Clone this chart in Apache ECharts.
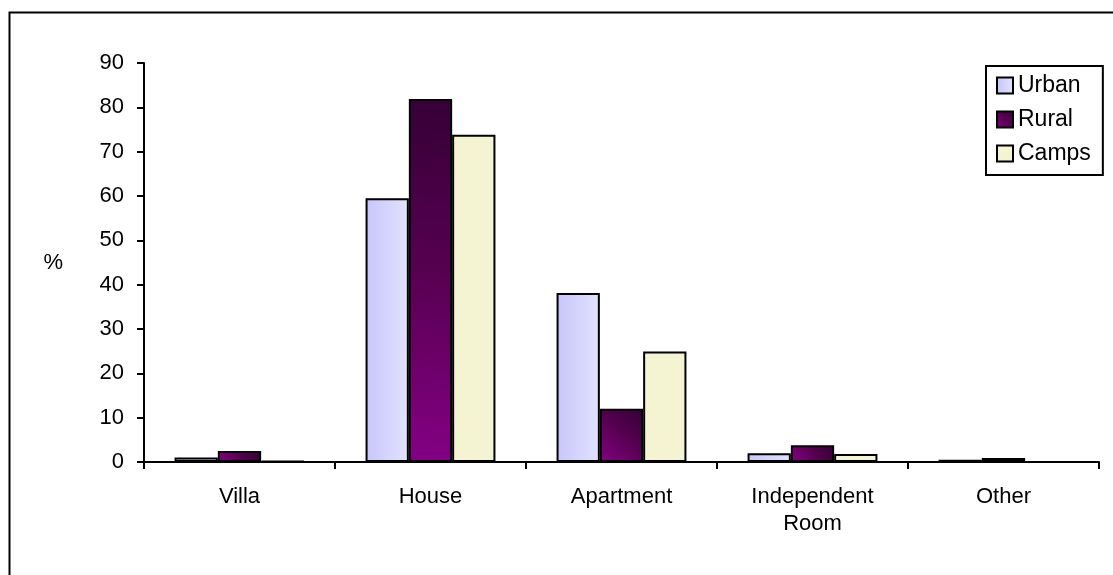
<!DOCTYPE html>
<html>
<head>
<meta charset="utf-8">
<script src="https://cdn.jsdelivr.net/npm/echarts@6/dist/echarts.min.js"></script>
<style>html,body{margin:0;padding:0;background:#fff}#c{width:1113px;height:575px}</style>
</head>
<body>
<div id="c"></div>
<script>
var categories = ['Villa', 'House', 'Apartment', 'Independent\nRoom', 'Other'];
var urban = [1.0, 59.5, 38.1, 2.0, 0.5];
var rural = [2.5, 81.9, 12.0, 3.8, 0.9];
var camps = [0.2, 73.8, 24.9, 1.8, 0.0];
var yTicks = [0, 10, 20, 30, 40, 50, 60, 70, 80, 90];

var FONT = '"Liberation Sans", Arial, sans-serif';
var chart = echarts.init(document.getElementById('c'));
var urbanFill = new echarts.graphic.LinearGradient(0, 0, 1, 0, [
  {offset: 0, color: '#c6c6fb'}, {offset: 1, color: '#e2e2ff'}
]);
var ruralFill = new echarts.graphic.LinearGradient(0, 1, 1, 0, [
  {offset: 0, color: '#840084'}, {offset: 0.55, color: '#55004f'}, {offset: 1, color: '#350036'}
]);
var campsFill = '#f4f4d3';
function bar(name, data, fill) {
  return {
    name: name, type: 'bar', data: data, barGap: '0%', barCategoryGap: '32%',
    itemStyle: {color: fill, borderColor: '#000', borderWidth: 2},
    emphasis: {disabled: true}
  };
}
chart.setOption({
  animation: false,
  textStyle: {fontFamily: FONT},
  graphic: [{
    type: 'rect', left: 7, top: 10, shape: {width: 1200, height: 700},
    style: {fill: 'none', stroke: '#000', lineWidth: 2}, silent: true, z: -1
  }],
  grid: {left: 144, right: 14, top: 63, bottom: 113},
  legend: {
    orient: 'vertical', left: 986, top: 66,
    padding: [8, 12, 10, 10], itemGap: 11,
    itemWidth: 16, itemHeight: 16, icon: 'rect',
    borderColor: '#000', borderWidth: 2, backgroundColor: '#fff',
    textStyle: {fontSize: 23, color: '#000', fontFamily: FONT},
    data: ['Urban', 'Rural', 'Camps']
  },
  xAxis: {
    type: 'category', data: categories,
    axisLine: {lineStyle: {color: '#000', width: 2}},
    axisTick: {show: true, length: 7, lineStyle: {color: '#000', width: 2}},
    axisLabel: {color: '#000', fontSize: 22, margin: 21, lineHeight: 27, fontFamily: FONT}
  },
  yAxis: {
    type: 'value', min: 0, max: 90, interval: 10,
    name: '%', nameLocation: 'middle', nameRotate: 0, nameGap: 81,
    nameTextStyle: {color: '#000', fontSize: 22, fontFamily: FONT},
    axisLine: {show: true, lineStyle: {color: '#000', width: 2}},
    axisTick: {show: true, length: 7, lineStyle: {color: '#000', width: 2}},
    splitLine: {show: false},
    axisLabel: {color: '#000', fontSize: 22, margin: 20, fontFamily: FONT,
      formatter: function (v) { return yTicks.indexOf(v) >= 0 ? String(v) : ''; }}
  },
  series: [bar('Urban', urban, urbanFill), bar('Rural', rural, ruralFill), bar('Camps', camps, campsFill)]
});
</script>
</body>
</html>
